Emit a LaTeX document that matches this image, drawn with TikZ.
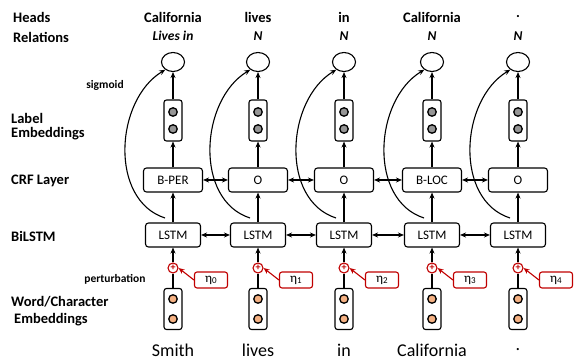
\documentclass[tikz,border=0pt]{standalone}
\usepackage{fontspec}
\setmainfont{Carlito}
\usetikzlibrary{arrows.meta,shapes.geometric}
\definecolor{myred}{RGB}{192,0,0}
\definecolor{dotorange}{RGB}{244,177,131}
\definecolor{dotgray}{RGB}{150,150,150}
\newcommand{\etasub}[1]{η\raisebox{-1.5pt}{\fontsize{9}{9}\selectfont #1}}
\begin{document}
\begin{tikzpicture}[x=1pt,y=-1pt,
  arr/.style={-{Stealth[length=6pt,width=5pt]}, line width=1.1pt},
  darr/.style={{Stealth[length=6pt,width=5pt]}-{Stealth[length=6pt,width=5pt]}, line width=1.1pt},
  redarr/.style={-{Stealth[length=6pt,width=5pt]}, line width=1.1pt, draw=myred},
  layerbox/.style={draw, rounded corners=3pt, line width=1.1pt, minimum height=24pt, inner sep=0pt, font=\fontsize{13}{14}\selectfont},
  vecbox/.style={draw, rounded corners=2.5pt, line width=1.1pt, minimum width=18pt, minimum height=41pt, inner sep=0pt},
  vdot/.style={circle, draw, line width=1.3pt, minimum size=8.5pt, inner sep=0pt},
  headc/.style={ellipse, draw, line width=1.1pt, minimum width=23pt, minimum height=19pt, inner sep=0pt},
  plusc/.style={circle, draw=myred, line width=1.1pt, minimum size=10pt, inner sep=0pt, text=myred, font=\fontsize{10}{10}\selectfont\bfseries},
  etabox/.style={draw=myred, rounded corners=2.5pt, line width=1.1pt, minimum width=33pt, minimum height=16pt, inner sep=0pt, font=\fontsize{13}{14}\selectfont},
  lefttxt/.style={anchor=west, font=\fontsize{14.5}{16}\selectfont\bfseries, inner sep=0pt},
  smalltxt/.style={font=\fontsize{11.5}{13}\selectfont\bfseries, inner sep=0pt},
  toptxt/.style={font=\fontsize{14.5}{16}\selectfont\bfseries, inner sep=0pt},
  reltxt/.style={font=\fontsize{13.5}{15}\selectfont\bfseries\itshape, inner sep=0pt},
  wordtxt/.style={font=\fontsize{18}{20}\selectfont, inner sep=0pt}
]
\useasboundingbox (0,0) rectangle (579,363);
% left labels
\node[lefttxt] (lHeads) at (13,17) {Heads};
\node[lefttxt] (lRel) at (13,37) {Relations};
\node[lefttxt] (lLab1) at (11,118) {Label};
\node[lefttxt] (lLab2) at (11,134) {Embeddings};
\node[lefttxt] (lCRF) at (11,181) {CRF Layer};
\node[lefttxt] (lBi) at (11,236) {BiLSTM};
\node[lefttxt] (lWC1) at (11,302) {Word/Character};
\node[lefttxt] (lWC2) at (14,320) {Embeddings};
\node[smalltxt] (lsig) at (105,85) {sigmoid};
\node[smalltxt] (lpert) at (115,279) {perturbation};

\foreach \i/\x/\mycrf/\myhd/\myrl/\mywrd in {0/173/B-PER/California/Lives in/Smith, 1/258/O/lives/N/lives, 2/344/O/in/N/in, 3/432/B-LOC/California/N/California, 4/518/O/./N/.}{
  \node[toptxt] (head\i) at (\x,17) {\myhd};
  \node[reltxt] (rel\i) at (\x,36) {\myrl};
  \node[headc] (circ\i) at (\x,62) {};
  \node[vecbox] (lab\i) at (\x,120.5) {};
  \node[vdot, fill=dotgray] (ldA\i) at (\x,112) {};
  \node[vdot, fill=dotgray] (ldB\i) at (\x,129) {};
  \node[layerbox, minimum width=59pt] (crf\i) at (\x,180) {\mycrf};
  \node[layerbox, minimum width=55pt] (lstm\i) at (\x,235) {LSTM};
  \node[plusc] (plus\i) at (\x,268) {+};
  \node[etabox] (eta\i) at (\x+38,280) {\etasub{\i}};
  \node[vecbox] (emb\i) at (\x,309) {};
  \node[vdot, fill=dotorange] (edA\i) at (\x,299) {};
  \node[vdot, fill=dotorange] (edB\i) at (\x,319) {};
  \node[wordtxt] (word\i) at (\x,350) {\mywrd};
  \coordinate (cs\i) at (\x-8,218);
  \draw[arr] (lab\i.north) -- (circ\i.south);
  \draw[arr] (crf\i.north) -- (lab\i.south);
  \draw[arr] (lstm\i.north) -- (crf\i.south);
  \draw[arr] (plus\i.north) -- (lstm\i.south);
  \draw[line width=1.1pt] (emb\i.north) -- (plus\i.south);
  \draw[redarr] (eta\i.west) -- (plus\i.east);
  \draw[arr] (cs\i) .. controls (\x-64,200) and (\x-58,100) .. (circ\i.225);
}
\foreach \i/\j in {0/1,1/2,2/3,3/4}{
  \draw[darr] (crf\i.east) -- (crf\j.west);
  \draw[darr] (lstm\i.east) -- (lstm\j.west);
}
\end{tikzpicture}
\end{document}
